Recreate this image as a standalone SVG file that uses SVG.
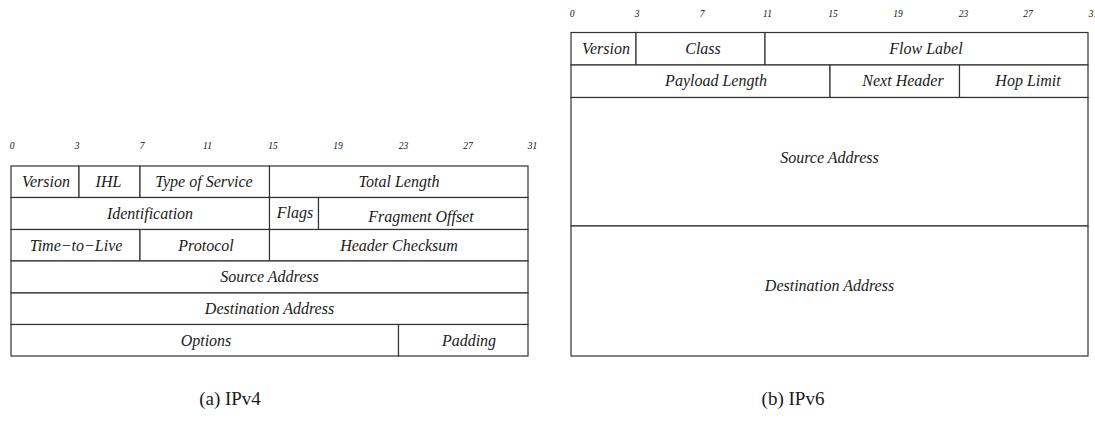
<svg xmlns="http://www.w3.org/2000/svg" width="1095" height="430" viewBox="0 0 1095 430">
<style>
.c{fill:#fff;stroke:#333;stroke-width:1.2}
.t{font-family:"Liberation Serif",serif;font-style:italic;font-size:16px;fill:#1a1a1a;text-anchor:middle}
.b{font-family:"Liberation Serif",serif;font-style:italic;font-size:9.5px;fill:#111;text-anchor:middle}
.cap{font-family:"Liberation Serif",serif;font-size:19px;fill:#1a1a1a;text-anchor:middle}
</style>
<rect width="1095" height="430" fill="#fff"/>
<g id="ipv4">
<g id="ipv4-bits">
<text class="b" x="12" y="149">0</text><text class="b" x="77" y="149">3</text><text class="b" x="142" y="149">7</text><text class="b" x="207.5" y="149">11</text><text class="b" x="273" y="149">15</text><text class="b" x="338" y="149">19</text><text class="b" x="403.5" y="149">23</text><text class="b" x="468" y="149">27</text><text class="b" x="532.5" y="149">31</text>
</g>
<g id="v4-version"><rect class="c" x="11" y="166" width="68" height="31.5"/><text class="t" x="46" y="187">Version</text></g>
<g id="v4-ihl"><rect class="c" x="79" y="166" width="61" height="31.5"/><text class="t" x="108.5" y="187">IHL</text></g>
<g id="v4-tos"><rect class="c" x="140" y="166" width="129.5" height="31.5"/><text class="t" x="204" y="187">Type of Service</text></g>
<g id="v4-totlen"><rect class="c" x="269.5" y="166" width="258.5" height="31.5"/><text class="t" x="399" y="187">Total Length</text></g>
<g id="v4-ident"><rect class="c" x="11" y="197.5" width="258.5" height="32"/><text class="t" x="150" y="218.5">Identification</text></g>
<g id="v4-flags"><rect class="c" x="269.5" y="197.5" width="49" height="32"/><text class="t" x="295" y="217.5">Flags</text></g>
<g id="v4-frag"><rect class="c" x="318.5" y="197.5" width="209.5" height="32"/><text class="t" x="421" y="222">Fragment Offset</text></g>
<g id="v4-ttl"><rect class="c" x="11" y="229.5" width="129" height="31.5"/><text class="t" x="76" y="250.5">Time−to−Live</text></g>
<g id="v4-proto"><rect class="c" x="140" y="229.5" width="129.5" height="31.5"/><text class="t" x="206" y="250.5">Protocol</text></g>
<g id="v4-cksum"><rect class="c" x="269.5" y="229.5" width="258.5" height="31.5"/><text class="t" x="399" y="250.5">Header Checksum</text></g>
<g id="v4-src"><rect class="c" x="11" y="261" width="517" height="32"/><text class="t" x="269.5" y="282">Source Address</text></g>
<g id="v4-dst"><rect class="c" x="11" y="293" width="517" height="31.5"/><text class="t" x="269.5" y="314">Destination Address</text></g>
<g id="v4-opt"><rect class="c" x="11" y="324.5" width="387.5" height="31.5"/><text class="t" x="206" y="345.5">Options</text></g>
<g id="v4-pad"><rect class="c" x="398.5" y="324.5" width="129.5" height="31.5"/><text class="t" x="469" y="345.5">Padding</text></g>
<text class="cap" x="230" y="405">(a) IPv4</text>
</g>
<g id="ipv6">
<g id="ipv6-bits">
<text class="b" x="572" y="17">0</text><text class="b" x="637" y="17">3</text><text class="b" x="702" y="17">7</text><text class="b" x="767.5" y="17">11</text><text class="b" x="833" y="17">15</text><text class="b" x="898" y="17">19</text><text class="b" x="963.5" y="17">23</text><text class="b" x="1028" y="17">27</text><text class="b" x="1093.5" y="17">31</text>
</g>
<g id="v6-version"><rect class="c" x="571" y="32.5" width="65" height="32.5"/><text class="t" x="606" y="54">Version</text></g>
<g id="v6-class"><rect class="c" x="636" y="32.5" width="129" height="32.5"/><text class="t" x="703" y="54">Class</text></g>
<g id="v6-flow"><rect class="c" x="765" y="32.5" width="323" height="32.5"/><text class="t" x="926" y="54">Flow Label</text></g>
<g id="v6-plen"><rect class="c" x="571" y="65" width="259" height="32.5"/><text class="t" x="716" y="86">Payload Length</text></g>
<g id="v6-next"><rect class="c" x="830" y="65" width="129.5" height="32.5"/><text class="t" x="903" y="86">Next Header</text></g>
<g id="v6-hop"><rect class="c" x="959.5" y="65" width="128.5" height="32.5"/><text class="t" x="1028" y="86">Hop Limit</text></g>
<g id="v6-src"><rect class="c" x="571" y="97.5" width="517" height="128.5"/><text class="t" x="829.5" y="163">Source Address</text></g>
<g id="v6-dst"><rect class="c" x="571" y="226" width="517" height="130"/><text class="t" x="829.5" y="291">Destination Address</text></g>
<text class="cap" x="793" y="405">(b) IPv6</text>
</g>
</svg>
